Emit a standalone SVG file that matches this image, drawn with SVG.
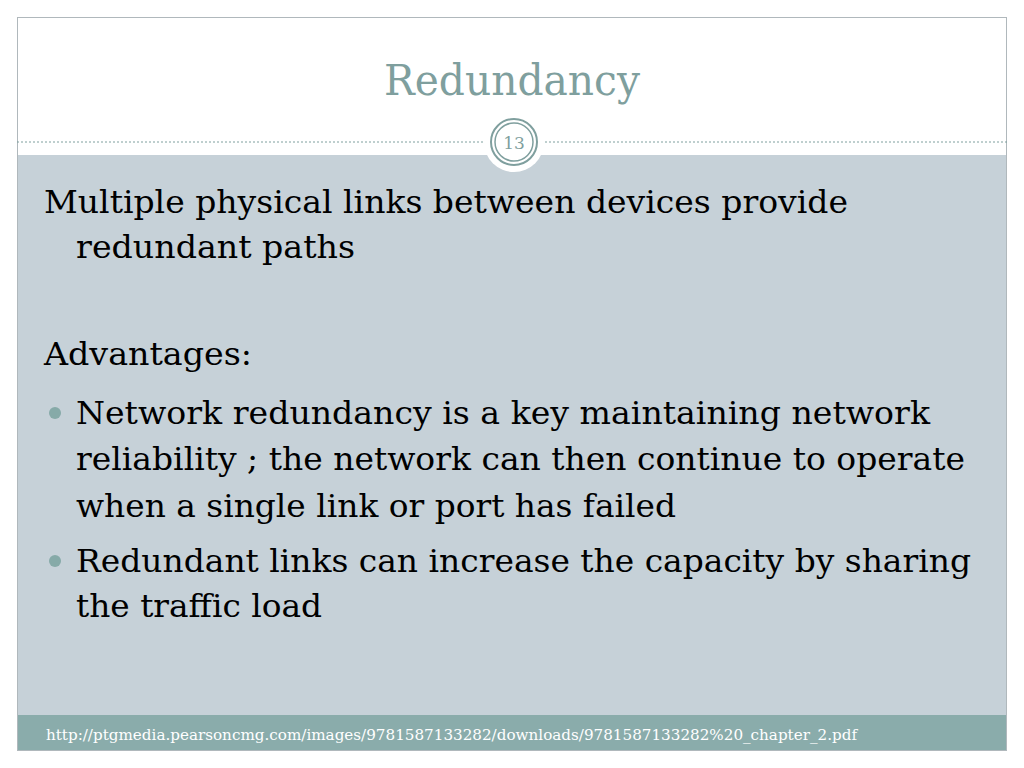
<svg xmlns="http://www.w3.org/2000/svg" width="1024" height="768" viewBox="0 0 1024 768">
<style>
.t{font-family:"DejaVu Serif",serif;font-size:31px;fill:#000}
.b{fill:#86aaa8}
</style>
<rect width="1024" height="768" fill="#fff"/>
<rect x="17" y="155" width="990" height="560" fill="#c6d1d8"/>
<rect x="17" y="715" width="990" height="36" fill="#8aacab"/>
<rect x="17.5" y="17.5" width="989" height="733" fill="none" stroke="#b0b8bc" stroke-width="1"/>
<line x1="17" y1="142" x2="1007" y2="142" stroke="#7f9f9e" stroke-width="1" stroke-dasharray="2,2"/>
<text x="512" y="95" text-anchor="middle" font-family="DejaVu Serif,serif" font-size="42" fill="#7f9f9e" textLength="256" lengthAdjust="spacingAndGlyphs">Redundancy</text>
<circle cx="514" cy="142" r="30" fill="#fff"/>
<circle cx="514" cy="142" r="23" fill="none" stroke="#7f9f9e" stroke-width="2"/>
<circle cx="514" cy="142" r="19" fill="none" stroke="#7f9f9e" stroke-width="1.5"/>
<text x="514" y="149" text-anchor="middle" font-family="DejaVu Serif,serif" font-size="17" fill="#7f9f9e">13</text>
<text class="t" x="44" y="213" textLength="804" lengthAdjust="spacingAndGlyphs">Multiple physical links between devices provide</text>
<text class="t" x="76" y="258" textLength="279" lengthAdjust="spacingAndGlyphs">redundant paths</text>
<text class="t" x="44" y="365" textLength="208" lengthAdjust="spacingAndGlyphs">Advantages:</text>
<circle class="b" cx="55" cy="413" r="6"/>
<text class="t" x="76" y="424" textLength="854" lengthAdjust="spacingAndGlyphs">Network redundancy is a key maintaining network</text>
<text class="t" x="76" y="470" textLength="889" lengthAdjust="spacingAndGlyphs">reliability ; the network can then continue to operate</text>
<text class="t" x="76" y="517" textLength="600" lengthAdjust="spacingAndGlyphs">when a single link or port has failed</text>
<circle class="b" cx="55" cy="561" r="6"/>
<text class="t" x="76" y="572" textLength="895" lengthAdjust="spacingAndGlyphs">Redundant links can increase the capacity by sharing</text>
<text class="t" x="76" y="617" textLength="246" lengthAdjust="spacingAndGlyphs">the traffic load</text>
<text x="46" y="740" font-family="DejaVu Serif,serif" font-size="15" fill="#fff" textLength="811" lengthAdjust="spacingAndGlyphs">http://ptgmedia.pearsoncmg.com/images/9781587133282/downloads/9781587133282%20_chapter_2.pdf</text>
</svg>
